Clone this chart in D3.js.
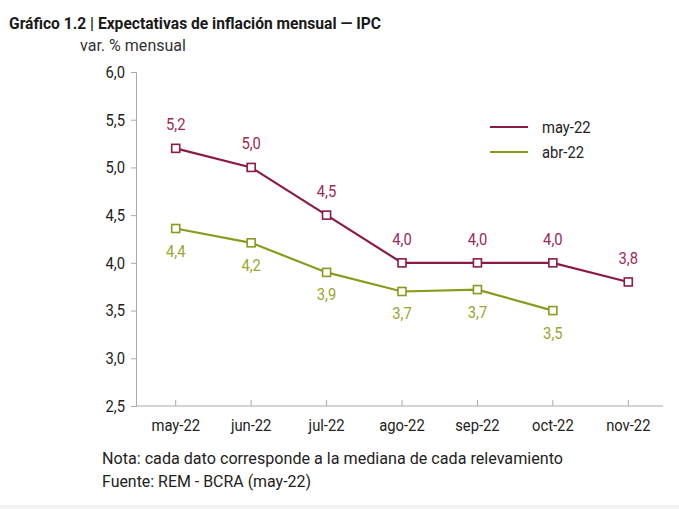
<!DOCTYPE html>
<html><head><meta charset="utf-8">
<script src="https://cdn.jsdelivr.net/npm/d3@7"></script>
<style>body{margin:0;background:#fff}svg{display:block;font-family:Roboto,"Noto Sans",sans-serif}</style>
</head><body><svg id="c" width="679" height="509"></svg>
<script>
const categories = ["may-22","jun-22","jul-22","ago-22","sep-22","oct-22","nov-22"];
const seriesMay = [5.2, 5.0, 4.5, 4.0, 4.0, 4.0, 3.8];
const seriesAbr = [4.36, 4.21, 3.90, 3.70, 3.72, 3.50];
const yTicks = [2.5, 3.0, 3.5, 4.0, 4.5, 5.0, 5.5, 6.0];
const seriesNames = ["may-22","abr-22"];

const svg = d3.select("#c");
const cMay = "#8c1a48", cAbr = "#8a9a1c";
const lMay = "#9c2a58", lAbr = "#9aa62e";
const FS = 16.8;

function condense(sel, f){
  sel.each(function(){
    const w = this.getComputedTextLength();
    d3.select(this).attr("textLength", w*f).attr("lengthAdjust","spacingAndGlyphs");
  });
}

const x = d3.scaleBand().domain(categories).range([138, 666]);
const y = d3.scaleLinear().domain([2.5, 6.0]).range([406, 72]);
const fmt = v => d3.format(".1f")(v).replace(".", ",");
const cx = d => x(d) + x.bandwidth()/2;

svg.append("rect").attr("x",0).attr("y",505).attr("width",679).attr("height",4).attr("fill","#f3f3f3");

svg.append("text").attr("x",9).attr("y",29).attr("font-size",16.5).attr("font-weight","bold").attr("fill","#1a1a1a")
  .attr("textLength",372).attr("lengthAdjust","spacingAndGlyphs")
  .text("Gráfico 1.2 | Expectativas de inflación mensual — IPC");
svg.append("text").attr("x",80).attr("y",51).attr("font-size",FS).attr("fill","#333")
  .attr("textLength",106).attr("lengthAdjust","spacingAndGlyphs").text("var. % mensual");

// y axis
const ya = svg.append("g").attr("transform","translate(136,0)")
  .call(d3.axisLeft(y).tickValues(yTicks).tickSize(5).tickPadding(6).tickFormat(fmt));
ya.select(".domain").attr("stroke","#aaa");
ya.selectAll(".tick line").attr("stroke","#aaa");
ya.selectAll(".tick text").attr("font-size",FS).attr("fill","#222").attr("font-family","Roboto").call(condense,0.88);

// x axis
const xa = svg.append("g").attr("transform","translate(0,406)")
  .call(d3.axisBottom(x).tickSize(-6).tickPadding(13));
xa.select(".domain").remove();
xa.append("line").attr("x1",136).attr("x2",663).attr("stroke","#aaa");
xa.selectAll(".tick line").attr("stroke","#aaa");
xa.selectAll(".tick text").attr("font-size",FS).attr("fill","#222").attr("font-family","Roboto").call(condense,0.88);

const line = d3.line().x((d,i)=>cx(categories[i])).y(d=>y(d));

function drawSeries(vals, col, lcol, dy){
  svg.append("path").datum(vals).attr("d",line).attr("fill","none").attr("stroke",col).attr("stroke-width",2.2);
  svg.append("g").selectAll("rect").data(vals).join("rect")
    .attr("x",(d,i)=>cx(categories[i])-4).attr("y",d=>y(d)-4).attr("width",8).attr("height",8)
    .attr("fill","#fff").attr("stroke",col).attr("stroke-width",1.6);
  svg.append("g").selectAll("text").data(vals).join("text")
    .attr("x",(d,i)=>cx(categories[i])).attr("y",d=>y(d)+dy).attr("text-anchor","middle")
    .attr("font-size",FS).attr("fill",lcol).text(d=>fmt(d)).call(condense,0.88);
}
drawSeries(seriesMay, cMay, lMay, -18);
drawSeries(seriesAbr, cAbr, lAbr, 28);

// legend
const lg = svg.append("g");
[[seriesNames[0],cMay,127],[seriesNames[1],cAbr,152]].forEach(([n,c,yy])=>{
  lg.append("line").attr("x1",490).attr("x2",528).attr("y1",yy).attr("y2",yy).attr("stroke",c).attr("stroke-width",2.2);
  lg.append("text").attr("x",542).attr("y",yy+6).attr("font-size",FS).attr("fill","#222").text(n).call(condense,0.88);
});

svg.append("text").attr("x",102).attr("y",464).attr("font-size",FS).attr("fill","#222")
  .attr("textLength",461).attr("lengthAdjust","spacingAndGlyphs")
  .text("Nota: cada dato corresponde a la mediana de cada relevamiento");
svg.append("text").attr("x",102).attr("y",487).attr("font-size",FS).attr("fill","#222")
  .attr("textLength",209).attr("lengthAdjust","spacingAndGlyphs")
  .text("Fuente: REM - BCRA (may-22)");
</script></body></html>
